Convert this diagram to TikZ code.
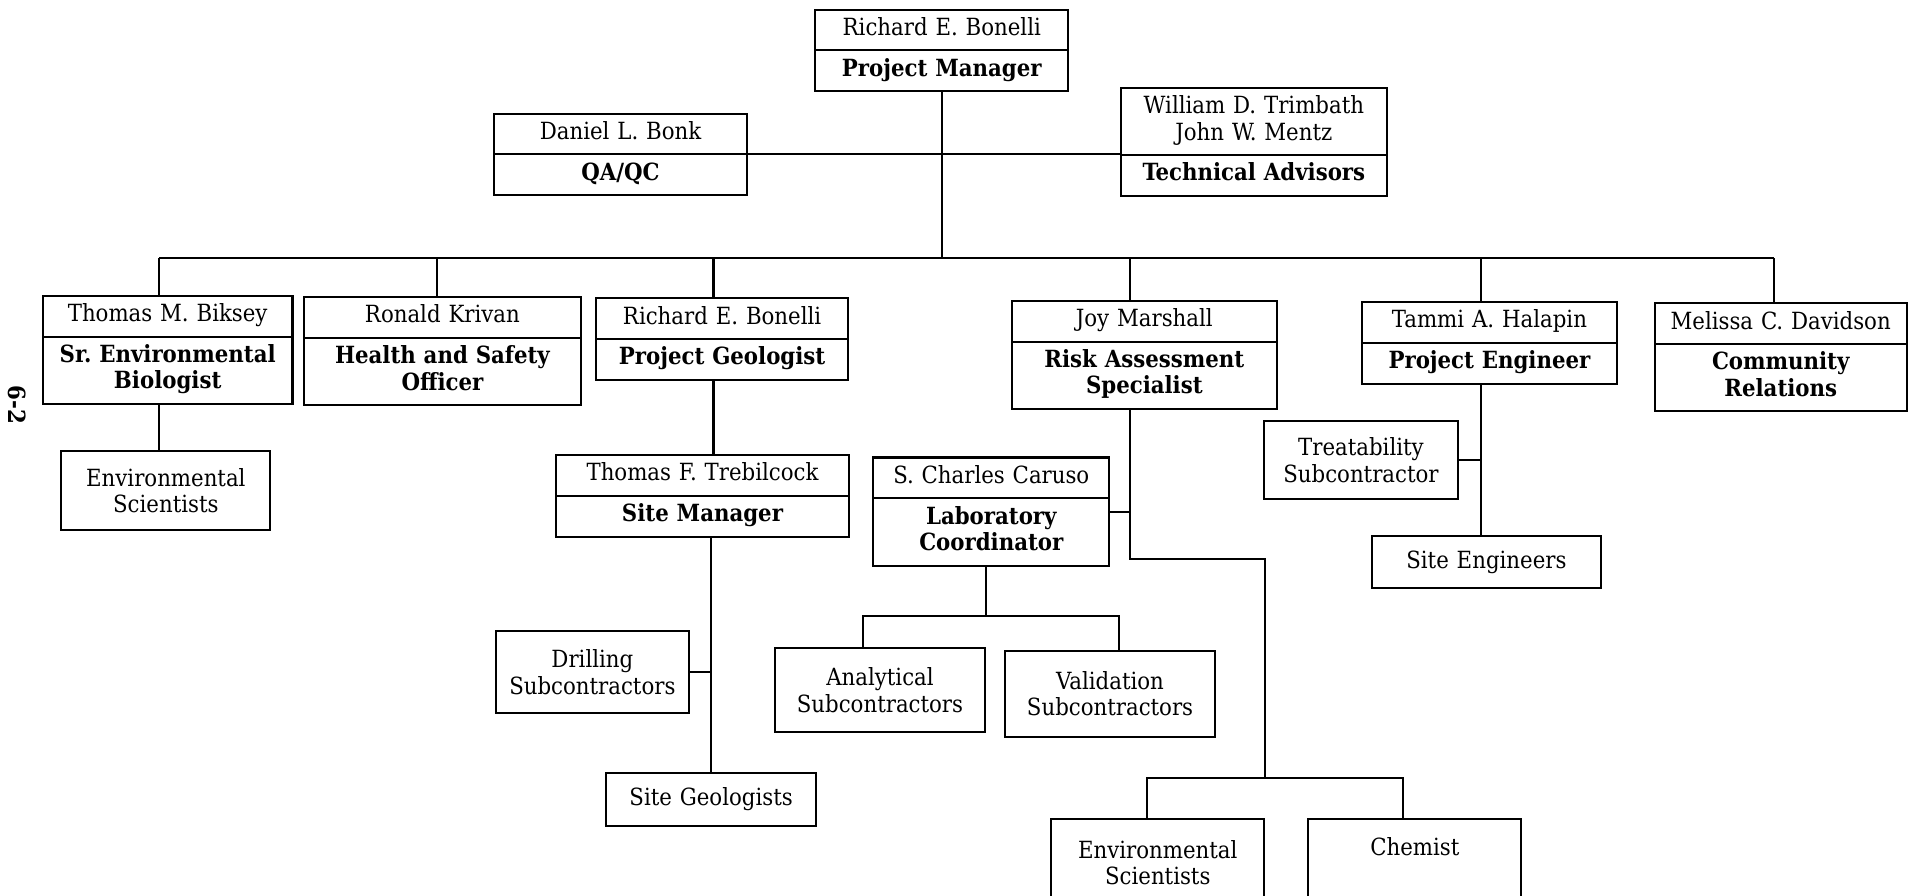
\documentclass[tikz,border=0pt]{standalone}
\usepackage{fontspec}
\setmainfont{DejaVu Serif Condensed}
\usetikzlibrary{shapes}

\newcommand{\who}[2]{\strut#1\strut\nodepart{two}\bfseries\strut#2\strut}

\begin{document}
\begin{tikzpicture}[x=0.6pt, y=-0.6pt,
    every node/.style={font=\fontsize{11.6}{13}\selectfont},
    person/.style={rectangle split, rectangle split parts=2, draw, line width=1pt,
        inner xsep=0pt, inner ysep=3pt, text width=#1, align=center, anchor=north},
    unit/.style={draw, line width=1pt, inner xsep=0pt, inner ysep=3pt,
        text width=#1, align=center, anchor=north},
    link/.style={line width=1pt}]
\useasboundingbox (0,0) rectangle (1568,732);
\clip (0,0) rectangle (1568,732);

% page number
\node[rotate=-90, font=\bfseries\fontsize{11.6}{13}\selectfont] (page) at (14,331) {6-2};

% top level
\node[person=124.2pt] (pm) at (769.5,7) {\who{Richard E. Bonelli}{Project Manager}};
\node[person=124.2pt] (qa) at (507,92) {\who{Daniel L. Bonk}{QA/QC}};
\node[person=130.2pt] (tech) at (1024.5,71) {\who{William D. Trimbath\\John W. Mentz}{Technical Advisors}};

% second row
\node[person=122.4pt] (biksey) at (137,241) {\who{Thomas M. Biksey}{Sr.\ Environmental\\Biologist}};
\node[person=136.2pt] (krivan) at (361.5,242) {\who{Ronald Krivan}{Health and Safety\\Officer}};
\node[person=123.6pt] (geol) at (590,243) {\who{Richard E. Bonelli}{Project Geologist}};
\node[person=130.2pt] (marshall) at (935,245) {\who{Joy Marshall}{Risk Assessment\\Specialist}};
\node[person=124.8pt] (halapin) at (1217,246) {\who{Tammi A. Halapin}{Project Engineer}};
\node[person=123.6pt] (davidson) at (1455,247) {\who{Melissa C. Davidson}{Community\\Relations}};

% below
\node[unit=102.6pt, minimum height=38.4pt] (envsci1) at (135.5,368) {Environmental\\Scientists};
\node[person=144pt] (trebil) at (574,371) {\who{Thomas F. Trebilcock}{Site Manager}};
\node[person=115.8pt] (caruso) at (810,373) {\who{S. Charles Caruso}{Laboratory\\Coordinator}};
\node[unit=94.8pt, minimum height=40.2pt] (drill) at (484,515) {Drilling\\Subcontractors};
\node[unit=103.2pt, minimum height=25.8pt] (sitegeo) at (581,631) {Site Geologists};
\node[unit=103.2pt, minimum height=40.8pt] (analyt) at (719,529) {Analytical\\Subcontractors};
\node[unit=103.2pt, minimum height=42pt] (valid) at (907,531) {Validation\\Subcontractors};
\node[unit=94.8pt, minimum height=38.4pt] (treat) at (1112,343) {Treatability\\Subcontractor};
\node[unit=112.2pt, minimum height=25.8pt] (siteeng) at (1214.5,437) {Site Engineers};
\node[unit=104.4pt, minimum height=43.2pt] (envsci2) at (946,668) {Environmental\\Scientists};
\node[unit=104.4pt, text height=15pt, text depth=22pt] (chemist) at (1156,668) {Chemist};

% lines
\coordinate (bus) at (769.5,211);
\draw[link] (pm.south) -- (bus);
\draw[link] (qa.east) -- (qa.east -| tech.west);
\draw[link] ([xshift=-4.2pt]biksey.north |- bus) -- ([xshift=-3.3pt]davidson.north |- bus);
\foreach \n/\s in {biksey/-4.2pt, krivan/-2.7pt, geol/-4.2pt, marshall/-7.2pt, halapin/-4.2pt, davidson/-3.3pt}
    \draw[link] ([xshift=\s]\n.north) -- ([xshift=\s]\n.north |- bus);

\draw[link] ([xshift=-4.2pt]biksey.south) -- ([xshift=-4.2pt]biksey.south |- envsci1.north);
\draw[link] ([xshift=-4.2pt]geol.south) -- ([xshift=-4.2pt]geol.south |- trebil.north);
\draw[link] (trebil.south -| sitegeo.north) -- (sitegeo.north);
\draw[link] (drill.east) -- (drill.east -| sitegeo.north);

\coordinate (mj) at ([xshift=-7.2pt]marshall.south);
\coordinate (bus2) at (1033.5,636);
\draw[link] (mj) -- ++(0,122) -| (bus2);
\draw[link] (caruso.east) -- (caruso.east -| mj);
\draw[link] ([xshift=-5.4pt]envsci2.north) |- ([xshift=-6pt]chemist.north |- bus2) -- ([xshift=-6pt]chemist.north);

\draw[link] ([xshift=-2.4pt]caruso.south) -- ++(0,40) coordinate (cb);
\draw[link] ([xshift=-8.4pt]analyt.north) |- ([xshift=4.2pt]valid.north |- cb) -- ([xshift=4.2pt]valid.north);

\coordinate (hj) at ([xshift=-4.2pt]halapin.south);
\draw[link] (hj) -- (hj |- siteeng.north);
\draw[link] (treat.east) -- (treat.east -| hj);
\end{tikzpicture}
\end{document}
